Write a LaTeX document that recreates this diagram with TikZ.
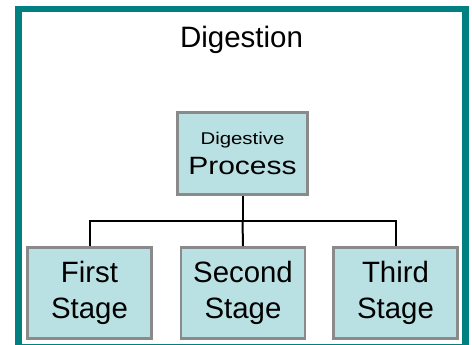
\documentclass[tikz,border=0pt]{standalone}
\usepackage{fontspec}
\setmainfont{Liberation Sans}
\usepackage{graphicx}
\definecolor{frameteal}{HTML}{008080}
\definecolor{boxfill}{HTML}{B9E0E3}
\definecolor{boxedge}{HTML}{8A8A8A}
\tikzset{
  stagebox/.style={draw=boxedge, line width=2.6pt, fill=boxfill, minimum width=124pt, minimum height=91pt, inner sep=0pt, align=center, font=\fontsize{29.4}{35.5}\selectfont},
  topbox/.style={draw=boxedge, line width=2.6pt, fill=boxfill, minimum width=130pt, minimum height=82pt, inner sep=0pt, align=center, font=\fontsize{25}{30.5}\selectfont},
  conn/.style={draw=black, line width=2pt}
}
\begin{document}
\begin{tikzpicture}[x=1pt,y=-1pt]
\useasboundingbox (0,0) rectangle (472,345);
\begin{scope}
\clip (0,0) rectangle (472,345);
\draw[frameteal, line width=6.5pt] (18.5,9) rectangle (465.5,347.5);
\end{scope}
\node[font=\fontsize{29.5}{35}\selectfont, anchor=base] (title) at (241.5,47.7) {Digestion};
\node[topbox] (proc) at (242.5,153.5) {{\fontsize{17}{17}\selectfont\scalebox{1.2}[1]{Digestive}}\\\scalebox{1.2}[1]{Process}};
\node[stagebox] (s1) at (89.5,293) {First\\Stage};
\node[stagebox] (s2) at (243,293) {Second\\Stage};
\node[stagebox] (s3) at (395.5,293) {Third\\Stage};
\coordinate (j) at (proc.south |- 0,221);
\draw[conn] (proc.south) -- (j);
\draw[conn] (s1.north) |- (j) -| (s3.north);
\draw[conn] (j) -- (s2.north);
\end{tikzpicture}
\end{document}
